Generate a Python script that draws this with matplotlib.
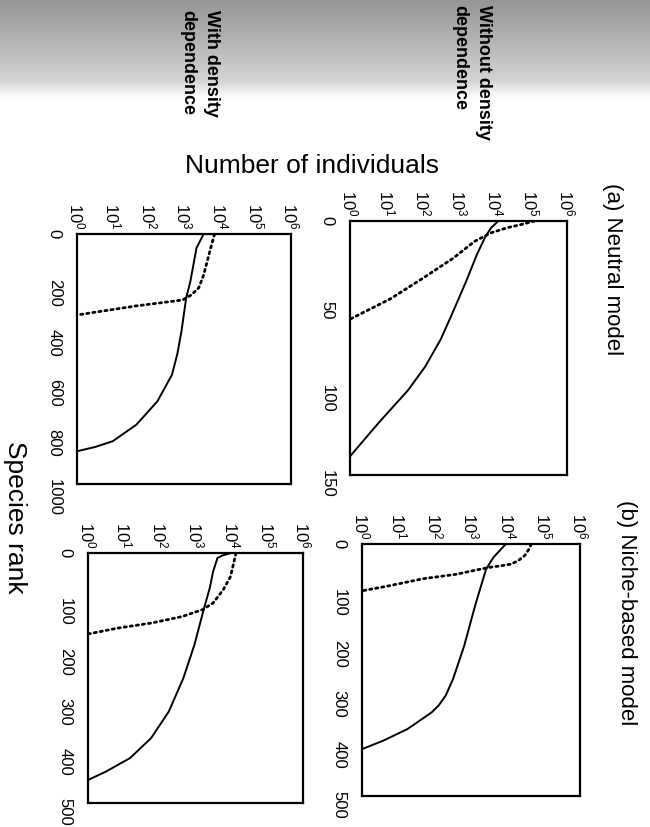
import numpy as np
import matplotlib
matplotlib.use("Agg")
import matplotlib.pyplot as plt
from matplotlib.ticker import NullLocator

plt.rcParams['font.family'] = ['Liberation Sans', 'DejaVu Sans']
plt.rcParams['mathtext.default'] = 'regular'

# (a) Neutral model, without density dependence
a_free_rank = [0, 4, 9, 20, 36, 56, 70, 86, 100, 119, 139]
a_free_solid = [12600, 8000, 5600, 3200, 1600, 630, 320, 120, 40, 6.3, 1]
a_free_dot_rank = [0, 2, 4, 7, 12, 22, 34, 46, 58]
a_free_dot = [126000, 56000, 22000, 7900, 2800, 710, 100, 13, 1]

# (a) Neutral model, with density dependence
a_dd_rank = [0, 56, 189, 256, 389, 480, 563, 669, 763, 829, 852, 869]
a_dd_solid = [3550, 2240, 1510, 1150, 850, 650, 460, 180, 46, 10, 3.2, 1]
a_dd_dot_rank = [0, 56, 164, 215, 244, 264, 288, 324]
a_dd_dot = [7200, 5600, 3550, 2600, 1600, 910, 44, 1]

# (b) Niche-based model, without density dependence
b_free_rank = [0, 26, 50, 122, 202, 268, 301, 320, 334, 367, 390, 407]
b_free_solid = [9100, 4200, 2600, 1300, 650, 320, 200, 130, 83, 18, 3.9, 1]
b_free_dot_rank = [0, 12, 23, 33, 40, 43, 46, 52, 60, 69, 83, 93]
b_free_dot = [46000, 38000, 30000, 20000, 12600, 7000, 3500, 1300, 400, 47, 5.5, 1]

# (b) Niche-based model, with density dependence
b_dd_rank = [0, 5, 10, 37, 70, 110, 184, 250, 317, 370, 410, 437, 454]
b_dd_solid = [9800, 5600, 4100, 3100, 2500, 1740, 930, 460, 180, 58, 15, 3.2, 1]
b_dd_dot_rank = [0, 47, 73, 100, 113, 127, 140, 150, 162]
b_dd_dot = [13500, 9500, 6000, 3100, 1600, 430, 60, 7, 1]

count_ticks = [1, 10, 100, 1e3, 1e4, 1e5, 1e6]

W, H = 650, 828
fig = plt.figure(figsize=(W / 100, H / 100), dpi=100)

# scanner shadow along the top edge
shade = fig.add_axes([0, 1 - 100 / H, 1, 100 / H], zorder=0)
g = np.concatenate([np.linspace(0.58, 0.82, 80), np.linspace(0.82, 1.0, 20)])
shade.imshow(np.tile(g[:, None], (1, 50)), cmap='gray', vmin=0, vmax=1,
             aspect='auto', extent=[0, 1, 1, 0])
shade.axis('off')


def panel(x0, y0, x1, y1, rmax, rticks, rank, solid, drank, dot):
    ax = fig.add_axes([x0 / W, 1 - y1 / H, (x1 - x0) / W, (y1 - y0) / H])
    ax.plot(solid, rank, color='black', lw=1.4)
    ax.plot(dot, drank, color='black', lw=2.0, linestyle=(0, (0.8, 1.4)),
            dash_capstyle='round')
    ax.set_xscale('log')
    ax.set_xlim(1, 1e6)
    ax.set_ylim(rmax, 0)
    ax.xaxis.tick_top()
    ax.set_xticks(count_ticks)
    ax.xaxis.set_minor_locator(NullLocator())
    ax.set_yticks(rticks)
    ax.tick_params(axis='x', labelrotation=-90, length=0, pad=4, labelsize=12)
    ax.tick_params(axis='y', labelrotation=-90, length=0, pad=11, labelsize=12)
    for s in ax.spines.values():
        s.set_linewidth(1.6)
    return ax


panel(350, 222, 567, 476, 150, [0, 50, 100, 150],
      a_free_rank, a_free_solid, a_free_dot_rank, a_free_dot)
panel(77, 235, 291, 485, 1000, [0, 200, 400, 600, 800, 1000],
      a_dd_rank, a_dd_solid, a_dd_dot_rank, a_dd_dot)
panel(362, 545, 580, 797, 500, [0, 100, 200, 300, 400, 500],
      b_free_rank, b_free_solid, b_free_dot_rank, b_free_dot)
panel(88, 554, 303, 804, 500, [0, 100, 200, 300, 400, 500],
      b_dd_rank, b_dd_solid, b_dd_dot_rank, b_dd_dot)


def ftext(x, y, s, **kw):
    fig.text(x / W, 1 - y / H, s, **kw)


ftext(312, 166, 'Number of individuals', fontsize=19, ha='center', va='center')
ftext(15, 517, 'Species rank', fontsize=19, rotation=-90, ha='center', va='center')
ftext(613, 183, '(a) Neutral model', fontsize=16, rotation=-90, ha='center', va='top')
ftext(627, 500, '(b) Niche-based model', fontsize=16, rotation=-90, ha='center', va='top')
ftext(472, 5, 'Without density\ndependence', fontsize=13, fontweight='bold',
      rotation=-90, ha='center', va='top', multialignment='left', linespacing=1.5)
ftext(200, 10, 'With density\ndependence', fontsize=13, fontweight='bold',
      rotation=-90, ha='center', va='top', multialignment='left', linespacing=1.5)

fig.savefig('out.png', dpi=100)
